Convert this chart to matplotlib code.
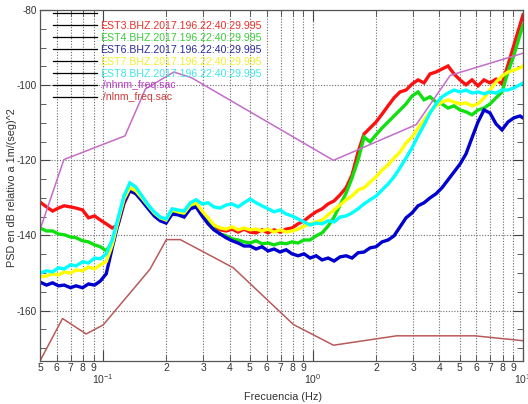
"""PSD of five stations against the Peterson noise models."""

import matplotlib

matplotlib.use("Agg")
import matplotlib.pyplot as plt
import numpy as np
from matplotlib.lines import Line2D
from matplotlib.ticker import FuncFormatter, LogFormatterSciNotation, LogLocator, MultipleLocator

plt.rcParams["font.family"] = ["Liberation Sans", "DejaVu Sans"]
plt.rcParams["mathtext.fontset"] = "custom"
plt.rcParams["mathtext.rm"] = "Liberation Sans"
plt.rcParams["axes.unicode_minus"] = False

# frequency grid shared by the station spectra (Hz)
freq = [0.0500, 0.0537, 0.0574, 0.0612, 0.0652, 0.0699, 0.0742, 0.0797, 0.0851, 0.0910,
        0.0970, 0.1034, 0.1104, 0.1178, 0.1256, 0.1340, 0.1430, 0.1530, 0.1640, 0.1750,
        0.1870, 0.1993, 0.2130, 0.2270, 0.2430, 0.2600, 0.2770, 0.2960, 0.3160, 0.3370,
        0.3610, 0.3850, 0.4110, 0.4390, 0.4690, 0.5010, 0.5350, 0.5710, 0.6100, 0.6520,
        0.6960, 0.7440, 0.7940, 0.8480, 0.9060, 0.9680, 1.034, 1.104, 1.179, 1.259,
        1.344, 1.436, 1.533, 1.638, 1.749, 1.868, 1.995, 2.131, 2.276, 2.430,
        2.595, 2.772, 2.960, 3.162, 3.377, 3.606, 3.851, 4.113, 4.393, 4.692,
        5.011, 5.351, 5.715, 6.104, 6.519, 6.962, 7.435, 7.941, 8.481, 9.057,
        9.673, 10.0]

est3 = [-131.1, -132.4, -133.5, -132.7, -132.1, -132.4, -132.7, -133.2, -135.3, -134.8,
        -135.9, -136.9, -138.0, -137.2, -131.6, -128.1, -128.7, -130.0, -132.1, -134.0,
        -135.3, -135.9, -133.7, -133.7, -134.5, -132.4, -131.9, -134.0, -136.4, -137.7,
        -138.5, -138.8, -138.3, -139.1, -138.3, -139.1, -139.3, -138.5, -139.3, -138.5,
        -139.1, -138.3, -138.0, -136.9, -136.1, -134.8, -133.7, -132.9, -131.6, -130.8,
        -129.2, -127.3, -123.9, -117.8, -113.0, -111.4, -109.8, -107.7, -105.5, -103.4,
        -101.8, -101.3, -99.7, -98.6, -99.4, -97.0, -96.5, -95.7, -94.9, -97.0,
        -98.6, -99.9, -98.6, -100.2, -98.6, -99.4, -98.4, -99.7, -94.6, -89.3,
        -84.0, -81.3]

est4 = [-138.0, -138.8, -138.8, -139.6, -139.8, -140.4, -140.6, -141.4, -141.7, -142.5,
        -143.0, -144.1, -141.7, -136.4, -130.8, -127.9, -128.7, -130.5, -132.7, -134.5,
        -135.9, -136.4, -134.0, -134.3, -134.8, -132.7, -132.1, -134.3, -136.4, -138.3,
        -139.6, -140.1, -140.9, -141.2, -141.7, -142.0, -141.4, -142.2, -142.0, -142.5,
        -142.0, -142.2, -141.7, -142.0, -141.2, -141.2, -140.1, -139.3, -137.5, -135.1,
        -131.9, -128.7, -124.7, -119.9, -113.8, -115.1, -113.2, -111.4, -109.8, -108.2,
        -106.6, -105.0, -102.9, -101.8, -103.9, -103.1, -104.5, -105.0, -106.1, -105.5,
        -106.6, -107.1, -107.9, -106.6, -106.1, -105.0, -103.4, -101.8, -96.5, -92.0,
        -86.6, -84.0]

est6 = [-152.4, -153.2, -152.6, -153.4, -153.2, -153.9, -153.4, -153.9, -152.9, -153.2,
        -152.1, -150.2, -143.3, -136.9, -131.1, -128.1, -128.9, -130.8, -132.9, -134.8,
        -136.1, -136.7, -134.3, -134.5, -135.1, -132.9, -132.4, -134.8, -136.9, -138.5,
        -139.6, -140.6, -141.4, -142.0, -142.8, -142.8, -143.6, -143.0, -144.1, -143.6,
        -144.4, -143.8, -144.9, -145.4, -144.9, -146.0, -145.4, -146.5, -146.0, -146.8,
        -145.7, -145.4, -146.0, -144.6, -144.4, -143.3, -143.0, -141.7, -141.2, -140.1,
        -137.7, -135.3, -134.0, -132.1, -131.3, -130.0, -128.9, -127.3, -125.2, -123.1,
        -121.0, -118.3, -114.0, -109.8, -106.6, -107.4, -110.3, -111.9, -109.8, -108.7,
        -108.2, -108.7]

est7 = [-151.0, -150.8, -150.2, -150.5, -149.7, -150.0, -149.2, -149.4, -148.4, -148.9,
        -147.8, -147.0, -142.5, -136.1, -130.3, -127.3, -128.1, -130.0, -132.1, -134.0,
        -135.3, -135.9, -133.2, -133.7, -134.0, -131.9, -131.3, -133.5, -135.3, -137.2,
        -138.0, -138.3, -137.7, -138.5, -138.0, -138.5, -138.3, -138.8, -138.3, -139.1,
        -138.5, -139.1, -138.8, -138.3, -137.5, -136.9, -136.4, -135.9, -134.5, -133.2,
        -131.9, -130.5, -129.5, -127.9, -127.3, -125.8, -124.4, -122.6, -121.2, -119.4,
        -117.8, -115.4, -113.8, -111.4, -109.3, -107.1, -105.5, -104.5, -103.9, -104.5,
        -105.0, -104.7, -105.5, -105.0, -103.4, -101.3, -99.2, -97.6, -96.5, -96.0,
        -95.4, -94.9]

est8 = [-150.0, -149.4, -149.7, -148.6, -148.9, -147.8, -148.1, -147.0, -147.3, -146.0,
        -146.2, -144.9, -141.2, -135.3, -129.5, -126.0, -127.1, -129.5, -131.9, -133.7,
        -135.1, -135.6, -132.9, -133.2, -133.5, -131.3, -130.5, -131.6, -131.3, -132.4,
        -132.7, -131.9, -131.6, -132.4, -131.3, -130.3, -131.3, -132.1, -132.9, -133.7,
        -133.2, -134.3, -134.8, -135.6, -136.4, -137.2, -136.7, -136.9, -136.1, -136.4,
        -135.1, -134.8, -134.0, -132.9, -131.6, -130.5, -129.5, -127.9, -126.3, -124.4,
        -122.0, -119.4, -116.7, -113.5, -110.6, -107.4, -105.0, -103.1, -102.1, -101.3,
        -101.8, -101.3, -102.1, -101.8, -102.3, -101.8, -102.1, -101.3, -101.3, -100.7,
        -99.9, -99.4]

# noise models
nhnm_freq = [0.05, 0.065, 0.127, 0.159, 0.217, 0.263, 1.25, 3.1, 4.5, 10.0]
nhnm_db = [-138.5, -119.8, -113.5, -101.0, -96.5, -98.0, -120.0, -110.5, -97.4, -91.5]
nlnm_freq = [0.05, 0.064, 0.083, 0.1, 0.167, 0.2, 0.233, 0.417, 0.806, 1.25, 2.5, 5.9, 10.0]
nlnm_db = [-173.4, -162.1, -166.2, -163.8, -149.0, -141.1, -141.1, -148.6, -163.7, -169.2,
           -166.7, -166.7, -168.0]

labels = ["EST3.BHZ.2017.196.22:40:29.995", "EST4.BHZ.2017.196.22:40:29.995",
          "EST6.BHZ.2017.196.22:40:29.995", "EST7.BHZ.2017.196.22:40:29.995",
          "EST8.BHZ.2017.196.22:40:29.995", "./nhnm_freq.sac", "./nlnm_freq.sac"]
line_colors = ["#ff1010", "#10e010", "#0000d0", "#ffff00", "#00ffff"]
label_colors = ["#e8302c", "#3ccc3c", "#2b2b99", "#f0f030", "#40e6e6", "#b83cc4", "#cc3838"]
NHNM_COLOR = "#c46cc8"
NLNM_COLOR = "#b85a5a"
GRID = "#6a6a6a"

W, H = 528, 404
fig = plt.figure(figsize=(W / 100, H / 100), dpi=100)
ax = fig.add_axes([40 / W, 1 - 361 / H, 483 / W, 351 / H])

for series, color in zip([est3, est4, est6, est7, est8], line_colors):
    ax.plot(freq, series, color=color, lw=2.4, solid_joinstyle="miter")
ax.plot(nhnm_freq, nhnm_db, color=NHNM_COLOR, lw=1.1)
ax.plot(nlnm_freq, nlnm_db, color=NLNM_COLOR, lw=1.1)

ax.set_xscale("log")
ax.set_xlim(0.05, 10)
ax.set_ylim(-173.4, -80)

ax.xaxis.set_major_locator(LogLocator(base=10))
ax.xaxis.set_minor_locator(LogLocator(base=10, subs=range(2, 10)))
ax.xaxis.set_major_formatter(LogFormatterSciNotation())
ax.xaxis.set_minor_formatter(FuncFormatter(lambda v, _: f"{v / 10 ** np.floor(np.log10(v) + 1e-9):.0f}"))
ax.yaxis.set_major_locator(MultipleLocator(20))
ax.yaxis.set_minor_locator(MultipleLocator(5))

ax.tick_params(which="both", direction="in", top=True, right=True, colors="#444",
               labelcolor="#333", labelsize=7.5)
ax.tick_params(axis="x", which="major", length=8, pad=8)
ax.tick_params(axis="x", which="minor", length=4, pad=1.5)
ax.tick_params(axis="y", which="major", length=7, pad=2, labelsize=7.2)
ax.tick_params(axis="y", which="minor", length=4)

ax.grid(True, which="major", axis="both", color=GRID, ls=(0, (1, 1.5)), lw=0.8)
ax.grid(True, which="minor", axis="x", color=GRID, ls=(0, (1, 1.5)), lw=0.8)
for sp in ax.spines.values():
    sp.set_color("#555")
    sp.set_linewidth(0.9)

# legend: black sample lines with coloured names
for k in range(8):
    y = 1 - (13 + 12 * k) / H
    fig.add_artist(Line2D([53 / W, 97 / W], [y, y], color="black", lw=0.9))
for k, (text, color) in enumerate(zip(labels, label_colors)):
    fig.text(100 / W, 1 - (26 + 11.9 * k) / H, text, color=color, fontsize=7.6, va="center")

fig.text(283 / W, 1 + 3 / H, "PSD de todas las estaciones", fontsize=7, color="#555", ha="center", va="center")
fig.text(283 / W, 1 - 397 / H, "Frecuencia (Hz)", fontsize=7.8, color="#333", ha="center", va="center")
fig.text(12 / W, 1 - 188 / H, "PSD en dB relativo a 1m/(seg)^2", fontsize=7.8, color="#333",
         rotation=90, ha="center", va="center")

fig.savefig("out.png", dpi=100)
